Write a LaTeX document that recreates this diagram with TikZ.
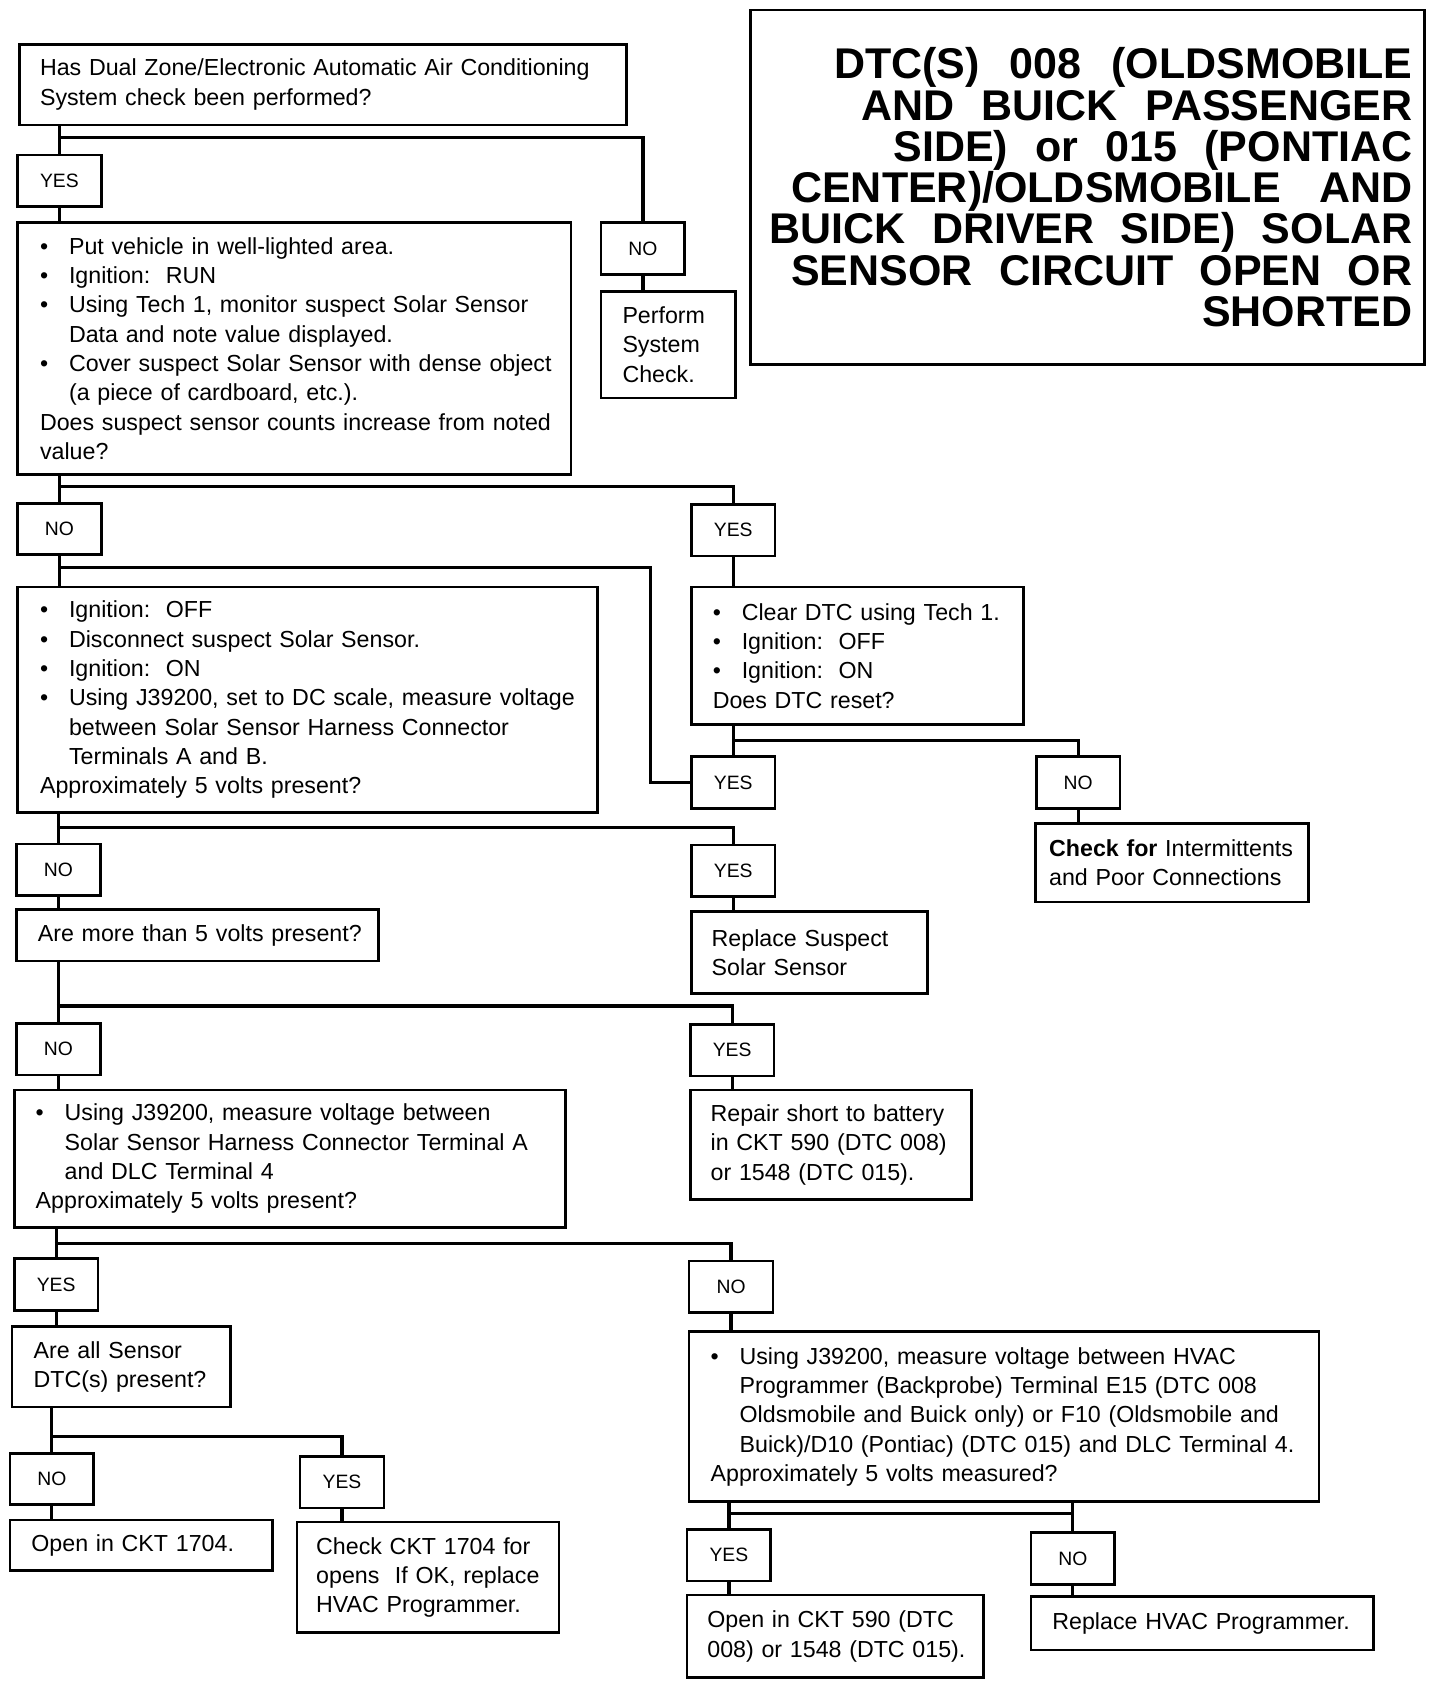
\documentclass[tikz,border=0pt]{standalone}
\usepackage{fontspec}
\setmainfont{Liberation Sans}
\newcommand\bitem[1]{\noindent\makebox[13.5pt][l]{\textbullet}#1\par}
\newcommand\nl{\\\hspace*{13.5pt}}
\tikzset{
  bx/.style={draw, line width=1.25pt, anchor=north west, inner ysep=0pt,
    font=\fontsize{10.8}{13.65}\selectfont,
    execute at begin node={\parindent=0pt\parskip=0pt\rightskip=-200pt plus 1fil\relax}},
  lab/.style={draw, line width=1.25pt, anchor=north west, minimum width=39pt,
    minimum height=24pt, inner sep=0pt, font=\fontsize{9}{10}\selectfont},
  conn/.style={line width=1.5pt},
}
\begin{document}
\begin{tikzpicture}[x=0.5pt, y=-0.5pt]
\useasboundingbox (0,0) rectangle (1340,1567);

% title
\node[draw, line width=1.3pt, anchor=north west, inner xsep=5.5pt, inner ysep=0pt,
  text width=302.5pt, align=right, minimum height=165pt,
  font=\fontsize{20}{19.2}\selectfont\bfseries] (T) at (697,8)
  {\makebox[269pt][l]{DTC(S)\hfill 008\hfill (OLDSMOBILE}\\
   \makebox[256.5pt][l]{AND\hfill BUICK\hfill PASSENGER}\\
   \makebox[241.5pt][l]{SIDE)\hfill or\hfill 015\hfill (PONTIAC}\\
   \makebox[289pt][l]{CENTER)/OLDSMOBILE\hfill AND}\\
   \makebox[299pt][l]{BUICK\hfill DRIVER\hfill SIDE)\hfill SOLAR}\\
   \makebox[289pt][l]{SENSOR\hfill CIRCUIT\hfill OPEN\hfill OR}\\
   SHORTED};

% boxes
\node[bx, inner xsep=9.5pt, text width=263.5pt, minimum height=37.5pt] (A) at (17,40)
  {Has Dual Zone/Electronic Automatic Air Conditioning\\ System check been performed?};
\node[bx, inner xsep=10.5pt, text width=236.5pt, minimum height=117pt] (B) at (15,206)
  {\bitem{Put vehicle in well-lighted area.}
   \bitem{Ignition:\ \ RUN}
   \bitem{Using Tech 1, monitor suspect Solar Sensor\nl Data and note value displayed.}
   \bitem{Cover suspect Solar Sensor with dense object\nl (a piece of cardboard, etc.).}
   Does suspect sensor counts increase from noted\\ value?};
\node[bx, inner xsep=10pt, text width=42.5pt, minimum height=49.5pt] (P) at (558,270)
  {Perform\\ System\\ Check.};
\node[bx, inner xsep=10.5pt, text width=249pt, minimum height=105pt] (C) at (15,545)
  {\bitem{Ignition:\ \ OFF}
   \bitem{Disconnect suspect Solar Sensor.}
   \bitem{Ignition:\ \ ON}
   \bitem{Using J39200, set to DC scale, measure voltage\nl between Solar Sensor Harness Connector\nl Terminals A and B.}
   Approximately 5 volts present?};
\node[bx, inner xsep=10pt, text width=134.5pt, minimum height=64pt] (D) at (642,545)
  {\bitem{Clear DTC using Tech 1.}
   \bitem{Ignition:\ \ OFF}
   \bitem{Ignition:\ \ ON}
   Does DTC reset?};
\node[bx, inner xsep=6.5pt, text width=114pt, minimum height=36.5pt] (E) at (962,765)
  {\textbf{Check for} Intermittents\\ and Poor Connections};
\node[bx, inner xsep=10pt, text width=148.5pt, minimum height=24pt] (F) at (14,845)
  {Are more than 5 volts present?};
\node[bx, inner xsep=9.5pt, text width=91pt, minimum height=38pt] (G) at (642,847)
  {Replace Suspect\\ Solar Sensor};
\node[bx, inner xsep=10pt, text width=236.5pt, minimum height=64pt] (H) at (12,1013)
  {\bitem{Using J39200, measure voltage between\nl Solar Sensor Harness Connector Terminal A\nl and DLC Terminal 4}
   Approximately 5 volts present?};
\node[bx, inner xsep=9.5pt, text width=112pt, minimum height=51pt] (I) at (641,1013)
  {Repair short to battery\\ in CKT 590 (DTC 008)\\ or 1548 (DTC 015).};
\node[bx, inner xsep=10pt, text width=81.5pt, minimum height=37.5pt] (J) at (10,1233)
  {Are all Sensor\\ DTC(s) present?};
\node[bx, inner xsep=10pt, text width=102pt, minimum height=23.5pt] (K) at (8,1413)
  {Open in CKT 1704.};
\node[bx, inner xsep=9pt, text width=104pt, minimum height=51.5pt] (L) at (275,1415)
  {Check CKT 1704 for\\ opens\ \ If OK, replace\\ HVAC Programmer.};
\node[bx, inner xsep=10pt, text width=273pt, minimum height=79pt] (M) at (640,1238)
  {\bitem{Using J39200, measure voltage between HVAC\nl Programmer (Backprobe) Terminal E15 (DTC 008\nl Oldsmobile and Buick only) or F10 (Oldsmobile and\nl Buick)/D10 (Pontiac) (DTC 015) and DLC Terminal 4.}
   Approximately 5 volts measured?};
\node[bx, inner xsep=9.5pt, text width=119pt, minimum height=38.5pt] (N) at (638,1483)
  {Open in CKT 590 (DTC\\ 008) or 1548 (DTC 015).};
\node[bx, inner xsep=10pt, text width=139.5pt, minimum height=25pt] (O) at (958,1484)
  {Replace HVAC Programmer.};

% labels
\node[lab] (Y1) at (15,143) {YES};
\node[lab] (N1) at (558,206) {NO};
\node[lab] (N2) at (15,467) {NO};
\node[lab] (Y2) at (642,468) {YES};
\node[lab] (Y3) at (642,703) {YES};
\node[lab] (N3) at (963,703) {NO};
\node[lab] (N4) at (14,784) {NO};
\node[lab] (Y4) at (642,785) {YES};
\node[lab] (N5) at (14,951) {NO};
\node[lab] (Y5) at (641,952) {YES};
\node[lab] (Y6) at (12,1170) {YES};
\node[lab] (N6) at (640,1172) {NO};
\node[lab] (N7) at (8,1351) {NO};
\node[lab] (Y7) at (278,1354) {YES};
\node[lab] (Y8) at (638,1422) {YES};
\node[lab] (N8) at (958,1425) {NO};

% junctions
\coordinate (j1) at (54,128);
\coordinate (j2) at (54,453);
\coordinate (j3) at (54,528);
\coordinate (k3) at (605,528);
\coordinate (j4) at (681,689);
\coordinate (j5) at (53,770);
\coordinate (j6) at (53,936);
\coordinate (j7) at (51,1157);
\coordinate (j8) at (47,1337);
\coordinate (j9) at (677,1408);

% connectors
\draw[conn] (A.south -| Y1.north) -- (Y1.north);
\draw[conn] (j1) -| (N1.north);
\draw[conn] (Y1.south) -- (Y1.south |- B.north);
\draw[conn] (N1.south) -- (N1.south |- P.north);

\draw[conn] (B.south -| N2.north) -- (N2.north);
\draw[conn] (j2) -| (Y2.north);
\draw[conn] (N2.south) -- (N2.south |- C.north);
\draw[conn] (j3) -- (k3) |- (Y3.west);
\draw[conn] (Y2.south) -- (Y2.south |- D.north);

\draw[conn] (D.south -| Y3.north) -- (Y3.north);
\draw[conn] (j4) -| (N3.north);
\draw[conn] (N3.south) -- (N3.south |- E.north);

\draw[conn] (C.south -| N4.north) -- (N4.north);
\draw[conn] (j5) -| (Y4.north);
\draw[conn] (N4.south) -- (N4.south |- F.north);
\draw[conn] (Y4.south) -- (Y4.south |- G.north);

\draw[conn] (F.south -| N5.north) -- (N5.north);
\draw[conn] (j6) -| (Y5.north);
\draw[conn] (N5.south) -- (N5.south |- H.north);
\draw[conn] (Y5.south) -- (Y5.south |- I.north);

\draw[conn] (H.south -| Y6.north) -- (Y6.north);
\draw[conn] (j7) -| (N6.north);
\draw[conn] (Y6.south) -- (Y6.south |- J.north);
\draw[conn] (N6.south) -- (N6.south |- M.north);

\draw[conn] (J.south -| N7.north) -- (N7.north);
\draw[conn] (j8) -| (Y7.north);
\draw[conn] (N7.south) -- (N7.south |- K.north);
\draw[conn] (Y7.south) -- (Y7.south |- L.north);

\draw[conn] (M.south -| Y8.north) -- (Y8.north);
\draw[conn] (M.south -| N8.north) -- (N8.north);
\draw[conn] (j9) -- (j9 -| N8.north);
\draw[conn] (Y8.south) -- (Y8.south |- N.north);
\draw[conn] (N8.south) -- (N8.south |- O.north);
\end{tikzpicture}
\end{document}
